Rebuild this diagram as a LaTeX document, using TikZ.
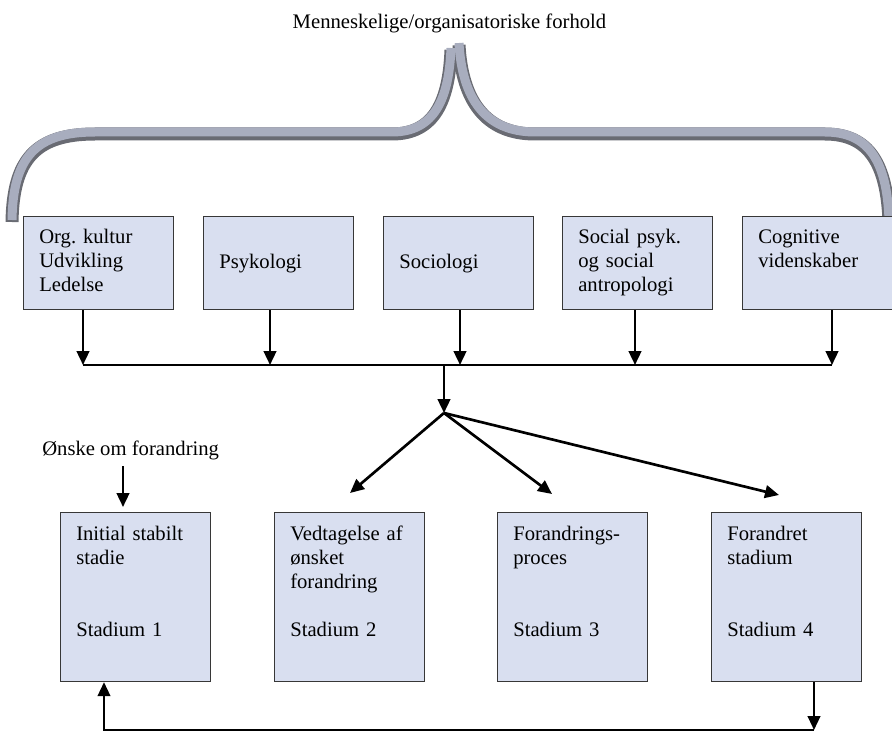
\documentclass[tikz,border=0pt]{standalone}
\usepackage{fontspec}
\setmainfont{Liberation Serif}
\usetikzlibrary{arrows.meta}
\frenchspacing
\definecolor{kassefyld}{RGB}{217,223,240}
\definecolor{kantgraa}{RGB}{55,55,55}
\definecolor{klammelys}{RGB}{168,173,190}
\definecolor{klammemoerk}{RGB}{105,107,115}
\tikzstyle{fag} = [rectangle, anchor=north west, minimum width=112.5pt, minimum height=69.75pt, draw=kantgraa, line width=0.9pt, fill=kassefyld]
\tikzstyle{stadie} = [fag, minimum height=126.75pt]
\tikzstyle{linje} = [anchor=base west, inner sep=0pt, font=\fontsize{15.5}{18}\selectfont]
\tikzstyle{tekst} = [linje, text width=105pt, align=left]
\tikzstyle{arrow} = [line width=1.8pt, -{Triangle[length=10.5pt,width=9.5pt]}]
\tikzstyle{skinne} = [line width=2.1pt]
\tikzstyle{klamme} = [line width=9.75pt, draw=klammemoerk]
\tikzstyle{klammetop} = [line width=6.75pt, draw=klammelys, yshift=1.5pt]

\begin{document}
\begin{tikzpicture}[x=0.75pt, y=-0.75pt]
\useasboundingbox (0,0) rectangle (892,731);

\node[linje, anchor=base] (titel) at (449.5,29) {Menneskelige/organisatoriske forhold};

%% klammen
\draw[klamme] (12,222) .. controls (13,160) and (35,134) .. (95,134) -- (392,134) .. controls (435,134) and (449,100) .. (451,50);
\draw[klamme] (459,45) .. controls (462,100) and (485,134) .. (535,134) -- (825,134) .. controls (870,134) and (887,165) .. (889,222);
\draw[klammetop] (12,222) .. controls (13,160) and (35,134) .. (95,134) -- (392,134) .. controls (435,134) and (449,100) .. (451,50);
\draw[klammetop] (459,45) .. controls (462,100) and (485,134) .. (535,134) -- (825,134) .. controls (870,134) and (887,165) .. (889,222);

\node[fag] (f1) at (23,216) {};
\node[fag] (f2) at (203,216) {};
\node[fag] (f3) at (383,216) {};
\node[fag] (f4) at (562,216) {};
\node[fag] (f5) at (742,216) {};
\node[tekst] (t1) at (39,243) {Org. kultur\\Udvikling\\Ledelse};
\node[tekst] (t2) at (219,268) {Psykologi};
\node[tekst] (t3) at (399,268) {Sociologi};
\node[tekst] (t4) at (578,243) {Social psyk.\\og social\\antropologi};
\node[tekst] (t5) at (758,243) {Cognitive\\videnskaber};

\node[linje] (onske) at (42,455) {Ønske om forandring};

\node[stadie] (s1) at (59.5,512) {};
\node[stadie] (s2) at (273.5,512) {};
\node[stadie] (s3) at (496.5,512) {};
\node[stadie] (s4) at (710.5,512) {};
\node[tekst] (u1) at (76,540) {Initial stabilt\\stadie};
\node[tekst] (u2) at (290,540) {Vedtagelse af\\ønsket\\forandring};
\node[tekst] (u3) at (513,540) {Forandrings-\\proces};
\node[tekst] (u4) at (727,540) {Forandret\\stadium};
\node[tekst] (n1) at (76,636) {Stadium 1};
\node[tekst] (n2) at (290,636) {Stadium 2};
\node[tekst] (n3) at (513,636) {Stadium 3};
\node[tekst] (n4) at (727,636) {Stadium 4};

%% samleskinne og pile
\coordinate (k1) at (83,365);
\coordinate (k2) at (270,365);
\coordinate (k3) at (460,365);
\coordinate (k4) at (635,365);
\coordinate (k5) at (832,365);
\coordinate (samle) at (444,365);
\coordinate (fan) at (444,413);
\coordinate (m2) at (350,493);
\coordinate (m3) at (552,494);
\coordinate (m4) at (779,495);
\coordinate (ind) at (123,507);
\coordinate (r1) at (814,730);
\coordinate (r2) at (104,730);

\foreach \i in {1,...,5}
  \draw [arrow] (f\i.south -| k\i) -- (k\i);
\draw [skinne] (k1) -- (k5);
\draw [arrow] (samle) -- (fan);
\draw [arrow, line width=2pt] (fan) -- (m2);
\draw [arrow, line width=2pt] (fan) -- (m3);
\draw [arrow, line width=2pt] (fan) -- (m4);
\draw [arrow, shorten <=5pt] (onske.south -| ind) -- (ind);
\draw [arrow, line width=1.6pt] (s4.south -| r1) -- (r1);
\draw [arrow, line width=1.6pt] (r1) -- (r2) -- (s1.south -| r2);

\end{tikzpicture}
\end{document}
